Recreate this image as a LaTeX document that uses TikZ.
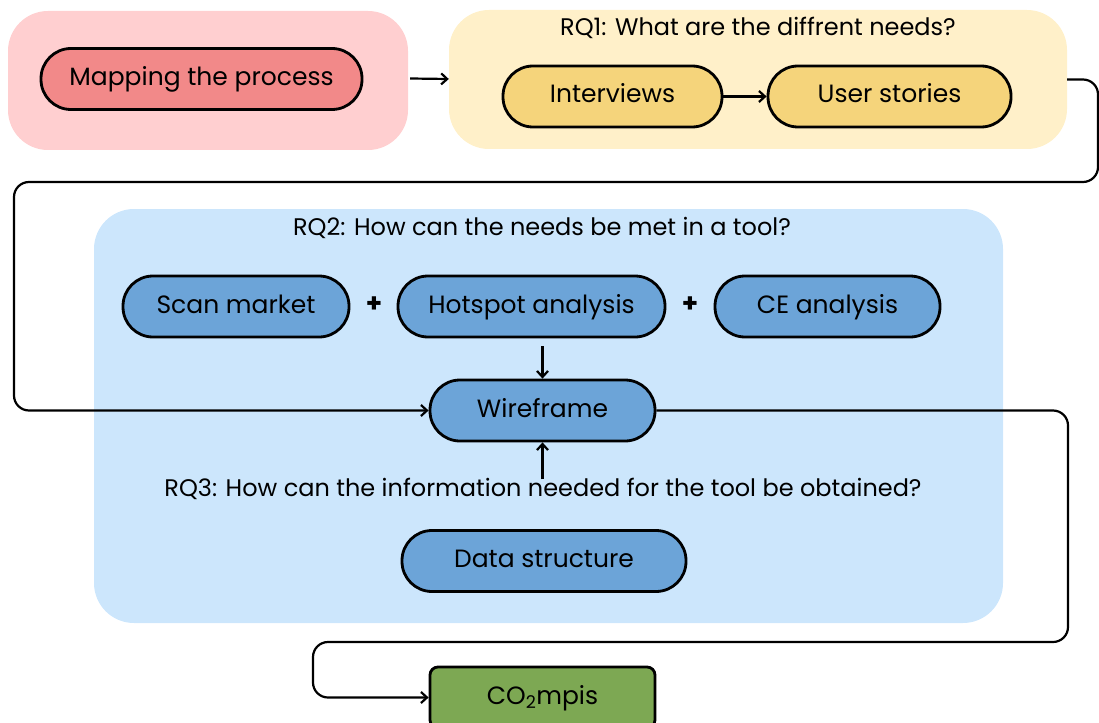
\documentclass[tikz,border=0pt]{standalone}
\usepackage{fontspec}
\setmainfont{Poppins}
\usetikzlibrary{arrows.meta}

\definecolor{mappingbg}{RGB}{255,207,208}
\definecolor{mappingfill}{RGB}{242,137,137}
\definecolor{needsbg}{RGB}{255,240,201}
\definecolor{needsfill}{RGB}{245,212,123}
\definecolor{toolbg}{RGB}{204,230,252}
\definecolor{toolfill}{RGB}{108,164,216}
\definecolor{resultfill}{RGB}{125,168,83}

\tikzset{
  groupbox/.style={fill=#1, draw=none, rounded corners=40, inner sep=0},
  stagebox/.style={fill=#1, draw=black, line width=2.8, rounded corners=30,
    minimum height=61, inner sep=0, text height=18, text depth=5,
    font=\fontsize{25}{29}\selectfont},
  rqlabel/.style={inner sep=0.75, font=\fontsize{24}{28}\selectfont},
  flow/.style={line width=2.2, -{Straight Barb[length=6,width=11,line width=2.2]}},
}

\begin{document}
\begin{tikzpicture}[x=1pt,y=-1pt]
\useasboundingbox (0,0) rectangle (1099,722);

%Shape: Group backgrounds
\node [groupbox=mappingbg, minimum width=400, minimum height=139] (mapgroup) at (208,80.5) {};
\node [groupbox=needsbg, minimum width=618, minimum height=139] (needsgroup) at (758,79.5) {};
\node [groupbox=toolbg, minimum width=909, minimum height=414] (toolgroup) at (548.5,416) {};

% Text Node
\node [rqlabel] (rqone) at (758,28) {RQ1: What are the diffrent needs?};
\node [rqlabel] (rqtwo) at (542,228) {RQ2: How can the needs be met in a tool?};
\node [rqlabel] (rqthree) at (543,489) {RQ3: How can the information needed for the tool be obtained?};

%Shape: Stages
\node [stagebox=mappingfill, minimum width=321] (mapping) at (201.5,79) {Mapping the process};
\node [stagebox=needsfill, minimum width=219] (interviews) at (612.5,96.5) {Interviews};
\node [stagebox=needsfill, minimum width=243] (stories) at (889.5,96.5) {User stories};
\node [stagebox=toolfill, minimum width=226] (scan) at (236,306.5) {Scan market};
\node [stagebox=toolfill, minimum width=267] (hotspot) at (531.5,306.5) {Hotspot analysis};
\node [stagebox=toolfill, minimum width=225] (ce) at (827.5,306.5) {CE analysis};
\node [stagebox=toolfill, minimum width=225] (wireframe) at (542.5,410.5) {Wireframe};
\node [stagebox=toolfill, minimum width=284] (datastruct) at (544,561) {Data structure};
\node [stagebox=resultfill, rounded corners=8, minimum width=225] (compis) at (542.5,697.5) {CO\textsubscript{2}mpis};

% Plus signs
\node [font=\fontsize{26}{26}\selectfont\bfseries] (plusa) at (374,305) {+};
\node [font=\fontsize{26}{26}\selectfont\bfseries] (plusb) at (690,305) {+};

%Straight Lines
\draw [flow] (mapgroup.east) ++(2,-2) -- (needsgroup.west |- mapping);
\draw [flow] (interviews) -- (stories);
\draw [flow, shorten <=8] (hotspot.south -| wireframe) -- (wireframe.north);
\draw [flow] (wireframe.south |- rqthree.north) ++(0,2) -- (wireframe.south);
%Curve Lines
\draw [flow, rounded corners=15] (needsgroup.east) -- (1098,79.5) |- (14,182) |- (wireframe.west);
\draw [flow, rounded corners=15] (wireframe.east) -- (1068,410.5) |- (313,642) |- (compis.west);

\end{tikzpicture}
\end{document}
